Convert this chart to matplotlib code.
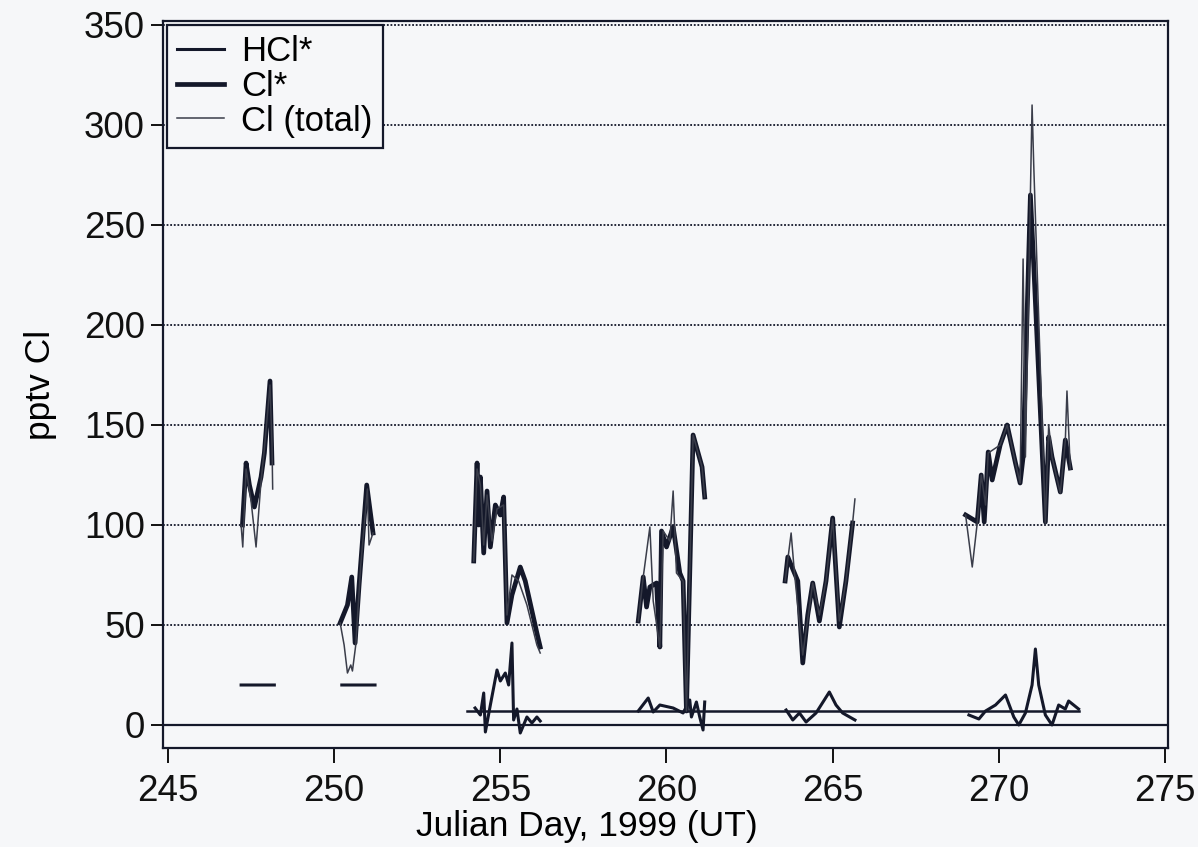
import numpy as np
import matplotlib
matplotlib.use("Agg")
import matplotlib.pyplot as plt

plt.rcParams['font.family'] = ['Liberation Sans', 'DejaVu Sans']

nan = np.nan

# ---- data (Julian day, pptv) ----
hcl_day = [247.2, 248.2, nan,
           250.23, 251.23, nan,
           254.24, 254.4, 254.5, 254.55, 254.7, 254.9, 255.0, 255.15, 255.25, 255.35, 255.4, 255.5, 255.6, 255.8, 255.95, 256.1, 256.2, nan,
           259.15, 259.45, 259.6, 259.8, 260.2, 260.5, 260.7, 260.75, 260.9, 261.0, 261.1, 261.15, nan,
           263.6, 263.8, 264.0, 264.2, 264.5, 264.9, 265.1, 265.3, 265.67, nan,
           269.1, 269.4, 269.6, 269.9, 270.2, 270.45, 270.6, 270.8, 271.0, 271.1, 271.2, 271.4, 271.6, 271.8, 272.0, 272.1, 272.4]
hcl_val = [20, 20, nan,
           20, 20, nan,
           8.5, 5, 16, -3.5, 10, 27.5, 22, 26, 20, 41, 2.5, 8, -4, 4, 1, 4, 2, nan,
           7, 13.5, 6.5, 10, 8.5, 6, 12.5, 4, 11.5, 4, -2.5, 11.5, nan,
           7.5, 2.5, 6, 1.5, 6, 16.5, 10, 6, 2.5, nan,
           5, 3, 7, 10, 15, 4, 0, 6, 20, 38, 20, 5, 0, 10, 8, 12, 8]

clstar_day = [247.24, 247.35, 247.45, 247.6, 247.8, 247.9, 248.07, 248.13, nan,
              250.18, 250.4, 250.53, 250.63, 250.75, 250.98, 251.17, nan,
              254.2, 254.3, 254.35, 254.4, 254.5, 254.6, 254.7, 254.85, 255.0, 255.1, 255.2, 255.35, 255.6, 255.75, 256.1, 256.2, nan,
              259.15, 259.3, 259.4, 259.5, 259.7, 259.8, 259.85, 260.0, 260.2, 260.4, 260.5, 260.6, 260.8, 261.07, 261.15, nan,
              263.57, 263.65, 263.95, 264.1, 264.25, 264.4, 264.6, 264.8, 265.0, 265.2, 265.4, 265.6, nan,
              269.0, 269.35, 269.47, 269.56, 269.68, 269.8, 270.04, 270.25, 270.5, 270.64, 270.73, 270.95, 271.05, 271.4, 271.5, 271.6, 271.85, 272.0, 272.15]
clstar_val = [100, 131, 120, 109, 124, 136, 172, 131, nan,
              51, 60, 74, 41, 70, 120, 96, nan,
              82, 131, 100, 124, 86, 117, 89, 110, 105, 114, 51, 65, 79, 72, 46, 39, nan,
              52, 74, 59, 69, 71, 39, 97, 89, 99, 76, 72, 7, 145, 129, 114, nan,
              72, 84, 72, 31, 55, 71, 52, 72, 103.5, 49, 72, 101, nan,
              105, 101.5, 125, 101.5, 136.5, 122.5, 140, 150, 131, 121, 134, 265, 230, 101.5, 144, 134, 116.5, 142.5, 128.5]

cltot_day = [247.2, 247.25, 247.35, 247.5, 247.65, 247.8, 247.9, 248.07, 248.13, 248.15, nan,
             250.18, 250.3, 250.4, 250.5, 250.55, 250.65, 250.8, 251.0, 251.05, 251.17, nan,
             254.2, 254.3, 254.4, 254.5, 254.6, 254.75, 254.9, 255.1, 255.2, 255.35, 255.55, 255.8, 256.1, 256.2, nan,
             259.15, 259.3, 259.5, 259.6, 259.8, 259.9, 260.1, 260.2, 260.3, 260.5, 260.6, 260.8, 261.07, 261.15, nan,
             263.57, 263.75, 263.85, 264.1, 264.4, 264.6, 264.8, 265.0, 265.2, 265.4, 265.6, 265.67, nan,
             269.0, 269.2, 269.35, 269.47, 269.6, 269.68, 270.04, 270.25, 270.5, 270.64, 270.73, 270.8, 271.0, 271.05, 271.4, 271.5, 271.6, 271.85, 272.0, 272.05, 272.15]
cltot_val = [100, 89, 128, 112, 89, 122, 138, 170, 140, 118, nan,
             51, 40, 26, 30, 27, 40, 80, 118, 90, 96, nan,
             82, 128, 120, 90, 115, 92, 108, 110, 55, 75, 72, 60, 40, 36, nan,
             52, 74, 99, 62, 39, 97, 92, 117, 76, 72, 7, 145, 129, 114, nan,
             72, 96, 76, 35, 71, 55, 72, 103, 52, 72, 101, 113, nan,
             105, 79, 101, 125, 110, 136, 140, 150, 131, 121, 233, 134, 310, 280, 101, 150, 134, 116, 142, 167, 128]

ref_level = 7
ref_days = [254.0, 272.4]

xticks = [245, 250, 255, 260, 265, 270, 275]
yticks = [0, 50, 100, 150, 200, 250, 300, 350]

# ---- figure ----
W, H = 1198, 847
fig = plt.figure(figsize=(W / 100, H / 100), dpi=100)
bg = '#f6f7f9'
fig.patch.set_facecolor(bg)
ax = fig.add_axes([163 / W, 1 - 748 / H, (1168 - 163) / W, (748 - 21) / H])
ax.set_facecolor(bg)

ink = '#14182a'
ax.set_xlim(244.85, 275.09)
ax.set_ylim(-11.5, 352)

for yv in yticks[1:]:
    ax.axhline(yv, color=ink, lw=1.3, ls=(0, (1, 1)), zorder=1)
ax.axhline(0, color=ink, lw=1.6, zorder=2)
ax.plot(ref_days, [ref_level, ref_level], color=ink, lw=1.8, zorder=2)

ax.plot(hcl_day, hcl_val, color=ink, lw=2.2, label='HCl*', zorder=3)
ax.plot(clstar_day, clstar_val, color=ink, lw=3.4, label='Cl*', zorder=4)
ax.plot(cltot_day, cltot_val, color='#3a3d4a', lw=1.1, label='Cl (total)', zorder=5)

ax.set_xticks(xticks)
ax.set_yticks(yticks)
ax.tick_params(axis='both', direction='out', width=1.4, labelsize=26.5, colors='#111111')
ax.tick_params(axis='x', length=10.5, pad=8)
ax.tick_params(axis='y', length=9, pad=4)
for sp in ax.spines.values():
    sp.set_linewidth(1.6)
    sp.set_color(ink)

ax.set_xlabel('Julian Day, 1999 (UT)', fontsize=25.5, labelpad=1, x=0.422)
ax.set_ylabel('pptv Cl', fontsize=25.5, labelpad=19)

leg = ax.legend(loc='upper left', bbox_to_anchor=(4 / 1005, 1 - 4 / 727), borderaxespad=0,
                fontsize=25, frameon=True, fancybox=False, framealpha=1, facecolor=bg,
                edgecolor=ink, handlelength=1.33, handletextpad=0.5, labelspacing=0.045,
                borderpad=0.3)
leg.get_frame().set_linewidth(1.6)

fig.savefig('out.png', dpi=100, facecolor=bg)
